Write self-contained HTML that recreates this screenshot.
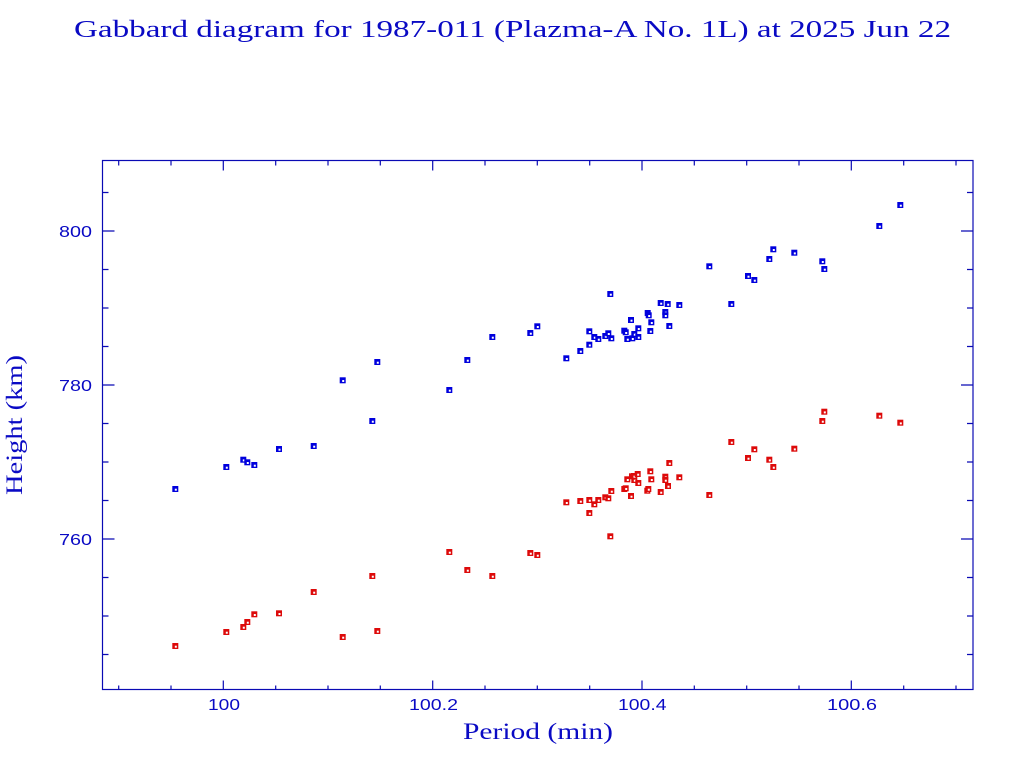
<!DOCTYPE html>
<html>
<head>
<meta charset="utf-8">
<style>
html,body{margin:0;padding:0;background:#fff;}
svg{display:block;}
</style>
</head>
<body>
<svg width="1024" height="768" viewBox="0 0 1024 768" xmlns="http://www.w3.org/2000/svg">
<defs>
<g id="mb"><rect x="-3" y="-3" width="6" height="6" fill="#0000dd"/><rect x="-0.5" y="-0.3" width="2" height="2" fill="#fff"/></g>
<g id="mr"><rect x="-3" y="-3" width="6" height="6" fill="#dd0a0a"/><rect x="-0.5" y="-0.3" width="2" height="2" fill="#fff"/></g>
</defs>
<text x="74" y="37" textLength="877" lengthAdjust="spacingAndGlyphs" font-family="'Liberation Serif', serif" font-size="24" fill="#0a0ac4">Gabbard diagram for 1987-011 (Plazma-A No. 1L) at 2025 Jun 22</text>
<rect x="102.5" y="160.5" width="870.5" height="529" fill="none" stroke="#0a0ab4" stroke-width="1.2"/>
<path stroke="#0a0ab4" stroke-width="1.2" fill="none" d="M102.5 192.5h6 M102.5 231h12 M102.5 269.5h6 M102.5 308h6 M102.5 346.5h6 M102.5 385h12 M102.5 423.5h6 M102.5 462h6 M102.5 500.5h6 M102.5 539h12 M102.5 577.5h6 M102.5 616h6 M102.5 654.5h6 M973 192.5h-6 M973 231h-12 M973 269.5h-6 M973 308h-6 M973 346.5h-6 M973 385h-12 M973 423.5h-6 M973 462h-6 M973 500.5h-6 M973 539h-12 M973 577.5h-6 M973 616h-6 M973 654.5h-6 M118.7 689.5v-4 M171 689.5v-4 M223.3 689.5v-9 M275.7 689.5v-4 M328 689.5v-4 M380.3 689.5v-4 M432.7 689.5v-9 M485 689.5v-4 M537.3 689.5v-4 M589.7 689.5v-4 M642 689.5v-9 M694.3 689.5v-4 M746.7 689.5v-4 M799 689.5v-4 M851.3 689.5v-9 M903.7 689.5v-4 M956 689.5v-4 M118.7 160.5v5 M171 160.5v5 M223.3 160.5v10 M275.7 160.5v5 M328 160.5v5 M380.3 160.5v5 M432.7 160.5v10 M485 160.5v5 M537.3 160.5v5 M589.7 160.5v5 M642 160.5v10 M694.3 160.5v5 M746.7 160.5v5 M799 160.5v5 M851.3 160.5v10 M903.7 160.5v5 M956 160.5v5"/>
<g font-family="'Liberation Sans', sans-serif" font-size="15.5" fill="#0a0ac4">
<text x="59" y="237" textLength="33" lengthAdjust="spacingAndGlyphs">800</text>
<text x="59" y="391" textLength="33" lengthAdjust="spacingAndGlyphs">780</text>
<text x="59" y="545" textLength="33" lengthAdjust="spacingAndGlyphs">760</text>
<text x="208" y="710" textLength="32" lengthAdjust="spacingAndGlyphs">100</text>
<text x="409" y="710" textLength="49" lengthAdjust="spacingAndGlyphs">100.2</text>
<text x="618" y="710" textLength="48.5" lengthAdjust="spacingAndGlyphs">100.4</text>
<text x="827" y="710" textLength="50" lengthAdjust="spacingAndGlyphs">100.6</text>
</g>
<text x="463" y="739" textLength="150" lengthAdjust="spacingAndGlyphs" font-family="'Liberation Serif', serif" font-size="23" fill="#0a0ac4">Period (min)</text>
<text transform="translate(22,495) rotate(-90)" x="0" y="0" textLength="140" lengthAdjust="spacingAndGlyphs" font-family="'Liberation Serif', serif" font-size="23" fill="#0a0ac4">Height (km)</text>
<g>
<use href="#mb" x="175.3" y="489"/>
<use href="#mb" x="226.3" y="467"/>
<use href="#mb" x="243.3" y="459.7"/>
<use href="#mb" x="247.3" y="462.3"/>
<use href="#mb" x="254.3" y="465"/>
<use href="#mb" x="279" y="449"/>
<use href="#mb" x="313.7" y="446"/>
<use href="#mb" x="342.7" y="380.3"/>
<use href="#mb" x="372.3" y="421"/>
<use href="#mb" x="377.3" y="362"/>
<use href="#mb" x="449.3" y="390"/>
<use href="#mb" x="467.3" y="360"/>
<use href="#mb" x="492.3" y="337"/>
<use href="#mb" x="530.3" y="333"/>
<use href="#mb" x="537.3" y="326.3"/>
<use href="#mb" x="566.3" y="358.3"/>
<use href="#mb" x="580.3" y="351"/>
<use href="#mb" x="589.3" y="344.7"/>
<use href="#mb" x="589.3" y="331.3"/>
<use href="#mb" x="594.3" y="337"/>
<use href="#mb" x="598.3" y="339"/>
<use href="#mb" x="605.3" y="336"/>
<use href="#mb" x="608.3" y="333.3"/>
<use href="#mb" x="611.3" y="338.3"/>
<use href="#mb" x="610.3" y="294"/>
<use href="#mb" x="624.3" y="330.7"/>
<use href="#mb" x="625.7" y="332.3"/>
<use href="#mb" x="627.3" y="339"/>
<use href="#mb" x="631" y="320"/>
<use href="#mb" x="632.3" y="338.3"/>
<use href="#mb" x="634.3" y="334"/>
<use href="#mb" x="638.3" y="328.3"/>
<use href="#mb" x="638.3" y="337"/>
<use href="#mb" x="647.7" y="313"/>
<use href="#mb" x="648.7" y="315.3"/>
<use href="#mb" x="651.3" y="322.3"/>
<use href="#mb" x="650.3" y="331"/>
<use href="#mb" x="660.7" y="303"/>
<use href="#mb" x="667.7" y="304"/>
<use href="#mb" x="665.3" y="312"/>
<use href="#mb" x="665.3" y="315.3"/>
<use href="#mb" x="669.3" y="326"/>
<use href="#mb" x="679.3" y="305"/>
<use href="#mb" x="709.3" y="266.3"/>
<use href="#mb" x="731.3" y="304"/>
<use href="#mb" x="748" y="276"/>
<use href="#mb" x="754.3" y="280"/>
<use href="#mb" x="769.3" y="259"/>
<use href="#mb" x="773.3" y="249.3"/>
<use href="#mb" x="794.3" y="252.7"/>
<use href="#mb" x="822.3" y="261.3"/>
<use href="#mb" x="824.3" y="269"/>
<use href="#mb" x="879.3" y="226"/>
<use href="#mb" x="900.3" y="205"/>
</g>
<g>
<use href="#mr" x="175.3" y="646"/>
<use href="#mr" x="226.3" y="632"/>
<use href="#mr" x="243.3" y="627"/>
<use href="#mr" x="247.3" y="622"/>
<use href="#mr" x="254.3" y="614.3"/>
<use href="#mr" x="279" y="613.3"/>
<use href="#mr" x="313.7" y="592"/>
<use href="#mr" x="342.7" y="637"/>
<use href="#mr" x="372.3" y="576"/>
<use href="#mr" x="377.3" y="631"/>
<use href="#mr" x="449.3" y="552"/>
<use href="#mr" x="467.3" y="570"/>
<use href="#mr" x="492.3" y="576"/>
<use href="#mr" x="530.3" y="553"/>
<use href="#mr" x="537.3" y="555"/>
<use href="#mr" x="566.3" y="502.3"/>
<use href="#mr" x="580.3" y="501"/>
<use href="#mr" x="589.3" y="500"/>
<use href="#mr" x="589.3" y="513"/>
<use href="#mr" x="594.3" y="504.3"/>
<use href="#mr" x="598.3" y="500"/>
<use href="#mr" x="605.3" y="497.3"/>
<use href="#mr" x="608.3" y="498.3"/>
<use href="#mr" x="610.3" y="536.3"/>
<use href="#mr" x="611.3" y="491"/>
<use href="#mr" x="624.3" y="489"/>
<use href="#mr" x="625.7" y="488.3"/>
<use href="#mr" x="627.3" y="479.3"/>
<use href="#mr" x="631" y="496"/>
<use href="#mr" x="632" y="476.3"/>
<use href="#mr" x="634.3" y="480"/>
<use href="#mr" x="634" y="476"/>
<use href="#mr" x="637.7" y="474"/>
<use href="#mr" x="638.3" y="483"/>
<use href="#mr" x="647.3" y="490.7"/>
<use href="#mr" x="648.3" y="489"/>
<use href="#mr" x="650.3" y="471.3"/>
<use href="#mr" x="651.3" y="479.3"/>
<use href="#mr" x="660.7" y="492"/>
<use href="#mr" x="665.3" y="476.7"/>
<use href="#mr" x="665.3" y="480"/>
<use href="#mr" x="668" y="486"/>
<use href="#mr" x="669.3" y="463"/>
<use href="#mr" x="679.3" y="477.3"/>
<use href="#mr" x="709.3" y="495"/>
<use href="#mr" x="731.3" y="442"/>
<use href="#mr" x="748" y="458"/>
<use href="#mr" x="754.3" y="449.3"/>
<use href="#mr" x="769.3" y="459.7"/>
<use href="#mr" x="773.3" y="467"/>
<use href="#mr" x="794.3" y="448.7"/>
<use href="#mr" x="822.3" y="421"/>
<use href="#mr" x="824.3" y="411.7"/>
<use href="#mr" x="879.3" y="415.7"/>
<use href="#mr" x="900.3" y="422.7"/>
</g>
</svg>
</body>
</html>
